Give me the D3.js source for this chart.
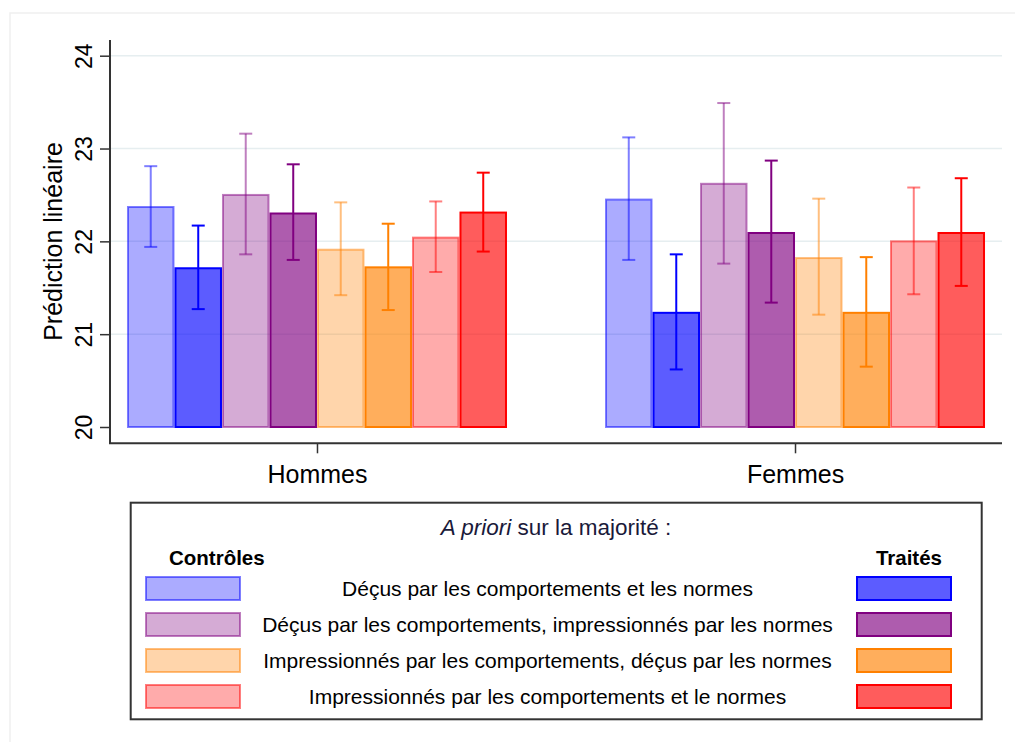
<!DOCTYPE html>
<html>
<head>
<meta charset="utf-8">
<script src="https://cdn.jsdelivr.net/npm/d3@7"></script>
<style>
  body { margin: 0; background: #fff; }
  svg { display: block; font-family: "Liberation Sans", Arial, sans-serif; }
</style>
</head>
<body>
<svg id="chart" width="1015" height="742"></svg>
<script>
// ---------- data ----------
const groups = ["Hommes", "Femmes"];
const yTicks = [20, 21, 22, 23, 24];
const yTitle = "Prédiction linéaire";
const legendTitleItalic = "A priori";
const legendTitleRest = " sur la majorité :";
const legendControlHead = "Contrôles";
const legendTreatedHead = "Traités";
const profileLabels = [
  "Déçus par les comportements et les normes",
  "Déçus par les comportements, impressionnés par les normes",
  "Impressionnés par les comportements, déçus par les normes",
  "Impressionnés par les comportements et le normes"
];
// series order inside each group: profile1 ctrl, profile1 treated, profile2 ctrl, ...
const baseColors = ["#0000ff", "#800080", "#ff8000", "#ff0000"];
const hommesMean = [22.37, 21.71, 22.50, 22.30, 21.91, 21.72, 22.04, 22.31];
const hommesLow  = [21.94, 21.27, 21.86, 21.80, 21.42, 21.26, 21.67, 21.89];
const hommesHigh = [22.81, 22.17, 23.16, 22.83, 22.42, 22.19, 22.43, 22.74];
const femmesMean = [22.45, 21.23, 22.62, 22.09, 21.82, 21.23, 22.00, 22.09];
const femmesLow  = [21.80, 20.62, 21.76, 21.34, 21.21, 20.65, 21.43, 21.52];
const femmesHigh = [23.12, 21.86, 23.49, 22.87, 22.46, 21.83, 22.58, 22.68];

const groupData = {
  Hommes: { mean: hommesMean, low: hommesLow, high: hommesHigh },
  Femmes: { mean: femmesMean, low: femmesLow, high: femmesHigh }
};

// ---------- layout ----------
const svg = d3.select("#chart");
const plotLeft = 110, plotRight = 1002, plotTop = 40, axisY = 443.3;
const baseY = 20;

// faint outer frame
svg.append("path")
  .attr("d", `M10,742 L10,13 L1015,13`)
  .attr("fill", "none").attr("stroke", "#f0f0f0").attr("stroke-width", 1.5);

const y = d3.scaleLinear().domain([20, 24]).range([427, 55.7]);
const x = d3.scalePoint().domain(groups).range([plotLeft, plotRight]).padding(0.433);
const inner = d3.scaleBand().domain(d3.range(8)).range([-190, 190]).padding(0);

// gridlines
svg.append("g").selectAll("line")
  .data(yTicks.filter(t => t > 20))
  .join("line")
  .attr("x1", plotLeft).attr("x2", plotRight)
  .attr("y1", d => y(d)).attr("y2", d => y(d))
  .attr("stroke", "#e6eef0").attr("stroke-width", 1.5);

// bars
groups.forEach(g => {
  const d = groupData[g];
  const gEl = svg.append("g").attr("transform", `translate(${x(g)},0)`);
  d.mean.forEach((m, i) => {
    const col = baseColors[Math.floor(i / 2)];
    const treated = i % 2 === 1;
    gEl.append("rect")
      .attr("x", inner(i) + 1)
      .attr("width", inner.bandwidth() - 2)
      .attr("y", y(m))
      .attr("height", y(baseY) - y(m))
      .attr("fill", col)
      .attr("fill-opacity", treated ? 0.64 : 0.33)
      .attr("stroke", col)
      .attr("stroke-opacity", treated ? 1 : 0.5)
      .attr("stroke-width", 2);
  });
  d.mean.forEach((m, i) => {
    const col = baseColors[Math.floor(i / 2)];
    const treated = i % 2 === 1;
    const cx = inner(i) + inner.bandwidth() / 2;
    const eb = gEl.append("g")
      .attr("stroke", col)
      .attr("stroke-opacity", treated ? 1 : 0.5)
      .attr("stroke-width", 2);
    eb.append("line").attr("x1", cx).attr("x2", cx)
      .attr("y1", y(d.low[i])).attr("y2", y(d.high[i]));
    eb.append("line").attr("x1", cx - 6.5).attr("x2", cx + 6.5)
      .attr("y1", y(d.low[i])).attr("y2", y(d.low[i]));
    eb.append("line").attr("x1", cx - 6.5).attr("x2", cx + 6.5)
      .attr("y1", y(d.high[i])).attr("y2", y(d.high[i]));
  });
});

// y axis
const yAxis = svg.append("g")
  .attr("transform", `translate(${plotLeft},0)`)
  .call(d3.axisLeft(y).tickValues(yTicks).tickFormat(d3.format("d"))
    .tickSize(10).tickSizeOuter(0).tickPadding(8));
yAxis.select(".domain").remove();
yAxis.selectAll(".tick line").attr("stroke", "#333").attr("stroke-width", 1.5);
yAxis.selectAll(".tick text")
  .attr("font-size", 23)
  .attr("fill", "#000")
  .attr("text-anchor", "middle")
  .attr("transform", "rotate(-90)")
  .attr("x", 0)
  .attr("y", -18.5)
  .attr("dy", 0);
svg.append("line")
  .attr("x1", plotLeft).attr("x2", plotLeft)
  .attr("y1", plotTop).attr("y2", axisY)
  .attr("stroke", "#333").attr("stroke-width", 2);

// x axis
const xAxis = svg.append("g")
  .attr("transform", `translate(0,${axisY})`)
  .call(d3.axisBottom(x).tickSize(10).tickSizeOuter(0).tickPadding(12));
xAxis.select(".domain").remove();
xAxis.selectAll(".tick line").attr("stroke", "#333").attr("stroke-width", 1.5);
xAxis.selectAll(".tick text")
  .attr("font-size", 25).attr("fill", "#000")
  .attr("dy", 0).attr("y", 40);
svg.append("line")
  .attr("x1", plotLeft - 1).attr("x2", plotRight)
  .attr("y1", axisY).attr("y2", axisY)
  .attr("stroke", "#333").attr("stroke-width", 2);

// y title
svg.append("text")
  .attr("transform", `translate(62,241.5) rotate(-90)`)
  .attr("text-anchor", "middle")
  .attr("font-size", 25)
  .attr("fill", "#000")
  .text(yTitle);

// ---------- legend ----------
const lg = svg.append("g");
lg.append("rect")
  .attr("x", 130.7).attr("y", 502.7)
  .attr("width", 851).attr("height", 216.6)
  .attr("fill", "#fff").attr("stroke", "#333").attr("stroke-width", 2);

const lt = lg.append("text")
  .attr("x", 556).attr("y", 534.5)
  .attr("text-anchor", "middle")
  .attr("font-size", 22.5)
  .attr("fill", "#1a1a3a");
lt.append("tspan").attr("font-style", "italic").text(legendTitleItalic);
lt.append("tspan").text(legendTitleRest);

lg.append("text").attr("x", 169).attr("y", 565)
  .attr("font-size", 20.5).attr("font-weight", "bold").attr("fill", "#000")
  .text(legendControlHead);
lg.append("text").attr("x", 942).attr("y", 565)
  .attr("text-anchor", "end")
  .attr("font-size", 20.5).attr("font-weight", "bold").attr("fill", "#000")
  .text(legendTreatedHead);

const rowY = d3.scalePoint().domain(d3.range(4)).range([588.5, 696.5]);
profileLabels.forEach((lab, k) => {
  const cy = rowY(k);
  const col = baseColors[k];
  lg.append("rect")
    .attr("x", 146).attr("y", cy - 11.5)
    .attr("width", 94).attr("height", 23)
    .attr("fill", col).attr("fill-opacity", 0.33)
    .attr("stroke", col).attr("stroke-opacity", 0.5).attr("stroke-width", 2);
  lg.append("rect")
    .attr("x", 857).attr("y", cy - 11.5)
    .attr("width", 94).attr("height", 23)
    .attr("fill", col).attr("fill-opacity", 0.64)
    .attr("stroke", col).attr("stroke-opacity", 1).attr("stroke-width", 2);
  lg.append("text")
    .attr("x", 547.5).attr("y", cy + 7.5)
    .attr("text-anchor", "middle")
    .attr("font-size", 21).attr("fill", "#000")
    .text(lab);
});
</script>
</body>
</html>
